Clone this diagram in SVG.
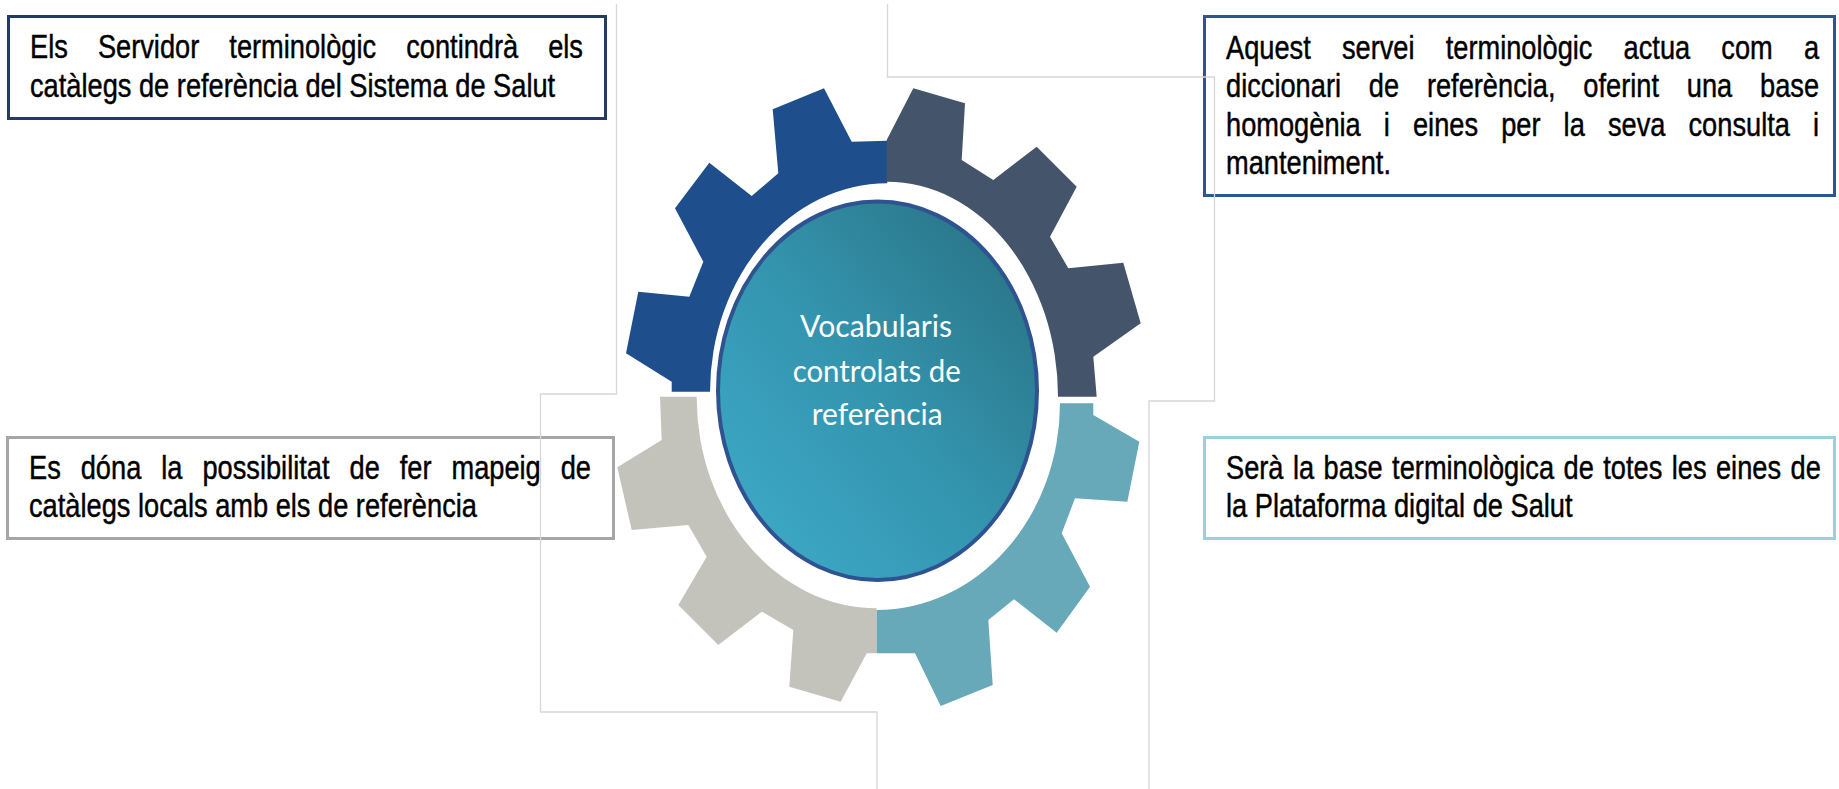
<svg xmlns="http://www.w3.org/2000/svg" width="1839" height="789" viewBox="0 0 1839 789">
<style>
.box{fill:#ffffff;stroke-width:3}
.bt{font-family:"Liberation Sans",Arial,sans-serif;font-size:33px;fill:#000000;stroke:#000000;stroke-width:0.45}
.ct{font-family:Lato,"Open Sans","Liberation Sans",sans-serif;font-size:30px;fill:#ffffff}
.ln{fill:none;stroke:#d6d6d6;stroke-width:1.3}
</style>
<defs>
<linearGradient id="hub" x1="0" y1="1" x2="1" y2="0">
<stop offset="0" stop-color="#3eadcc"/>
<stop offset="0.5" stop-color="#3494ae"/>
<stop offset="1" stop-color="#276d7e"/>
</linearGradient>
</defs>
<rect width="1839" height="789" fill="#ffffff"/>

<g id="gear">
<g id="gear-tl"><path fill="#1e4e8c" d="M 887.3 140.7 L 851.7 141.7 L 824 88.3 L 772.7 109.3 L 778.3 173.3 L 751.7 196 L 709.3 162.7 L 675 208.3 L 703.3 261.7 L 689.3 296.7 L 638.3 291.7 L 626 353.3 L 671.7 381.7 L 671.7 391.7 L 710 391.7 A 177 209 0 0 1 887.3 183.3 Z"/></g>
<g id="gear-tr"><path fill="#44546a" d="M 886.7 140 L 913.3 88.3 L 965 103.3 L 961.7 160 L 993.3 180 L 1036.7 146.7 L 1076.7 186.7 L 1050 236.7 L 1068.3 268.3 L 1123.3 262.7 L 1140.7 323.3 L 1093.3 356.7 L 1096.7 396.7 L 1058 396.7 A 171 215 0 0 0 886.7 181.7 Z"/></g>
<g id="gear-bl"><path fill="#c4c3bb" d="M 660 396.7 L 661.7 440 L 617.3 467.3 L 631.7 530 L 688.3 525 L 706.7 556.7 L 678.3 605 L 718.3 645 L 761.7 611.7 L 793.3 630 L 789.3 686.7 L 840.7 701.7 L 866.7 653.3 L 876.7 653.3 L 876.7 608.3 A 180 211 0 0 1 696.7 396.7 Z"/></g>
<g id="gear-br"><path fill="#67a8b9" d="M 1093.3 403.3 L 1093.3 415 L 1139.3 441.7 L 1127.3 501.7 L 1075 498.3 L 1061.7 533.3 L 1090 586.7 L 1056.7 632.7 L 1014 599.3 L 988.3 620 L 992.7 685 L 940.7 706 L 915 653.3 L 876.7 653.3 L 876.7 610 A 183 207 0 0 0 1060 403.3 Z"/></g>
</g>

<g id="hub-node">
<ellipse cx="877.5" cy="390.8" rx="159.5" ry="189.2" fill="url(#hub)" stroke="#2e5390" stroke-width="4"/>
<text class="ct" x="800" y="336.7" textLength="152" lengthAdjust="spacingAndGlyphs">Vocabularis</text>
<text class="ct" x="792.7" y="381.7" textLength="168" lengthAdjust="spacingAndGlyphs">controlats de</text>
<text class="ct" x="811.7" y="425" textLength="131" lengthAdjust="spacingAndGlyphs">referència</text>
</g>

<g id="box-tl">
<rect class="box" x="8.5" y="16.5" width="597" height="102" stroke="#253c62"/>
<text class="bt" transform="translate(30,0) scale(0.825,1)"><tspan x="0" y="58.5">Els</tspan><tspan x="82.3" y="58.5">Servidor</tspan><tspan x="241.6" y="58.5">terminològic</tspan><tspan x="456" y="58.5">contindrà</tspan><tspan x="628.1" y="58.5">els</tspan><tspan x="0" y="97">catàlegs de referència del Sistema de Salut</tspan></text>
</g>

<g id="box-tr">
<rect class="box" x="1204.5" y="16.5" width="630" height="179" stroke="#2d5592"/>
<text class="bt" transform="translate(1226,0) scale(0.825,1)"><tspan x="0" y="59.5">Aquest</tspan><tspan x="140.5" y="59.5">servei</tspan><tspan x="266.3" y="59.5">terminològic</tspan><tspan x="481.9" y="59.5">actua</tspan><tspan x="600.4" y="59.5">com</tspan><tspan x="700.5" y="59.5">a</tspan><tspan x="0" y="97.5">diccionari</tspan><tspan x="173.1" y="97.5">de</tspan><tspan x="243.5" y="97.5">referència,</tspan><tspan x="433.1" y="97.5">oferint</tspan><tspan x="558.5" y="97.5">una</tspan><tspan x="647.3" y="97.5">base</tspan><tspan x="0" y="136">homogènia</tspan><tspan x="191.3" y="136">i</tspan><tspan x="226.6" y="136">eines</tspan><tspan x="333.5" y="136">per</tspan><tspan x="409.2" y="136">la</tspan><tspan x="462.9" y="136">seva</tspan><tspan x="560.6" y="136">consulta</tspan><tspan x="711.5" y="136">i</tspan><tspan x="0" y="174.5">manteniment.</tspan></text>
</g>

<g id="box-bl">
<rect class="box" x="7.5" y="437.5" width="606" height="101" stroke="#a6a6a6"/>
<text class="bt" transform="translate(29,0) scale(0.825,1)"><tspan x="0" y="479.5">Es</tspan><tspan x="62.7" y="479.5">dóna</tspan><tspan x="160.3" y="479.5">la</tspan><tspan x="210.2" y="479.5">possibilitat</tspan><tspan x="388.5" y="479.5">de</tspan><tspan x="449.4" y="479.5">fer</tspan><tspan x="512.1" y="479.5">mapeig</tspan><tspan x="644.5" y="479.5">de</tspan><tspan x="0" y="517.5">catàlegs locals amb els de referència</tspan></text>
</g>

<g id="box-br">
<rect class="box" x="1204.5" y="437.5" width="630" height="101" stroke="#9bcfde"/>
<text class="bt" transform="translate(1226,0) scale(0.825,1)"><tspan x="0" y="479.5" word-spacing="2.3">Serà la base terminològica de totes les eines de</tspan><tspan x="0" y="517.5">la Plataforma digital de Salut</tspan></text>
</g>

<g id="connectors">
<path class="ln" d="M 616.5 4 V 394 H 540.5 V 712 H 877 V 789"/>
<path class="ln" d="M 887.5 4 V 77 H 1214.5 V 401 H 1149 V 789"/>
</g>
</svg>
